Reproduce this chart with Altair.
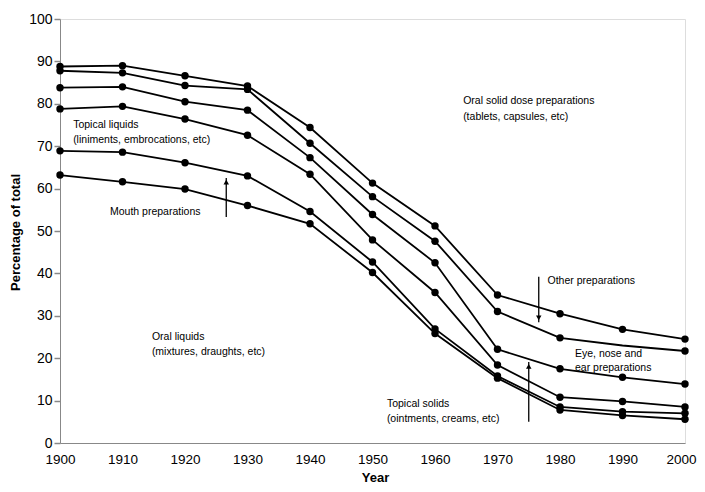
import altair as alt
import pandas as pd

years = [1900, 1910, 1920, 1930, 1940, 1950, 1960, 1970, 1980, 1990, 2000]

# Cumulative boundaries, bottom to top
oral_liquids      = [63.2, 61.6, 59.9, 56.0, 51.7, 40.2, 25.8, 15.3, 7.8, 6.5, 5.6]
mouth_preps       = [68.9, 68.6, 66.1, 63.0, 54.6, 42.7, 26.9, 15.8, 8.5, 7.4, 7.0]
topical_liquids   = [78.8, 79.4, 76.4, 72.6, 63.4, 47.9, 35.5, 18.4, 10.8, 9.8, 8.5]
topical_solids    = [83.8, 84.0, 80.5, 78.5, 67.3, 53.9, 42.5, 22.1, 17.5, 15.5, 13.9]
eye_nose_ear      = [87.8, 87.3, 84.3, 83.4, 70.7, 58.1, 47.6, 31.0, 24.8, 23.0, 21.7]
other_preps       = [88.8, 89.0, 86.6, 84.2, 74.4, 61.3, 51.2, 34.9, 30.5, 26.8, 24.5]

series_names = ["oral_liquids", "mouth", "topical_liquids", "topical_solids", "eye_nose_ear", "other"]
series_values = [oral_liquids, mouth_preps, topical_liquids, topical_solids, eye_nose_ear, other_preps]

# Annotation labels
label_text = [
    "Topical liquids", "(liniments, embrocations, etc)",
    "Mouth preparations",
    "Oral solid dose preparations", "(tablets, capsules, etc)",
    "Oral liquids", "(mixtures, draughts, etc)",
    "Other preparations",
    "Eye, nose and", "ear preparations",
    "Topical solids", "(ointments, creams, etc)",
]
label_year = [1902.1, 1902.1, 1908.0, 1964.5, 1964.5, 1914.7, 1914.7, 1978.0, 1982.4, 1982.4, 1952.3, 1952.3]
label_value = [75.0, 71.5, 54.5, 80.7, 76.8, 25.0, 21.5, 38.2, 21.0, 17.7, 9.2, 5.6]

# Arrows: x position, tail, tip, direction
arrow_year = [1926.6, 1976.6, 1975.0]
arrow_tail = [53.3, 39.2, 5.0]
arrow_tip = [62.5, 28.5, 19.1]
arrow_dir = ["up", "down", "up"]

rows = []
for name, vals in zip(series_names, series_values):
    for yr, v in zip(years, vals):
        rows.append({"series": name, "year": yr, "value": v})
df = pd.DataFrame(rows)

labels_df = pd.DataFrame({"year": label_year, "value": label_value, "text": label_text})

arrows_df = pd.DataFrame({
    "year": arrow_year,
    "value": arrow_tail,
    "value2": arrow_tip,
    "dir": arrow_dir,
})
arrows_df["head"] = [t - 1.0 if d == "up" else t + 1.0 for t, d in zip(arrow_tip, arrow_dir)]
arrows_df["shape"] = ["triangle-up" if d == "up" else "triangle-down" for d in arrow_dir]

x_enc = alt.X(
    "year:Q",
    scale=alt.Scale(domain=[1900, 2000], nice=False, zero=False),
    axis=alt.Axis(
        values=years, format="d", title="Year", ticks=False, labelPadding=9,
        labelFlush=False, labelOverlap=False,
        labelOffset={"condition": {"test": "datum.value == 2000", "value": -4}, "value": 0},
        grid=False, titleFontWeight="bold", titleFontSize=13,
        titleX=315, titleY=34, titleBaseline="middle", titleAlign="center",
        labelFontSize=13.5,
    ),
)
y_enc = alt.Y(
    "value:Q",
    scale=alt.Scale(domain=[0, 100], nice=False),
    axis=alt.Axis(
        values=list(range(0, 101, 10)), title="Percentage of total", grid=False,
        tickSize=6, tickWidth=1.5, labelPadding=2, labelFontSize=14,
        labelFlush=False, labelOverlap=False,
        titleFontWeight="bold", titleFontSize=13, titleX=-45, titleY=213,
        titleAngle=-90, titleAlign="center", titleBaseline="middle",
    ),
)

lines = alt.Chart(df).mark_line(color="black", strokeWidth=1.8).encode(
    x=x_enc, y=y_enc, detail="series:N"
)

points = alt.Chart(df).transform_filter(
    "!(datum.series == 'eye_nose_ear' && datum.year == 1990)"
).mark_circle(color="black", size=55, opacity=1).encode(x=x_enc, y=y_enc)

texts = alt.Chart(labels_df).mark_text(
    align="left", baseline="middle", fontSize=10.5, font="Liberation Sans", color="black"
).encode(x=x_enc, y=y_enc, text="text:N")

arrow_lines = alt.Chart(arrows_df).mark_rule(color="black", strokeWidth=1.3).encode(
    x=x_enc, y=y_enc, y2="value2:Q"
)

arrow_heads = alt.Chart(arrows_df).mark_point(
    color="black", filled=True, opacity=1, size=30
).encode(
    x=x_enc,
    y=alt.Y("head:Q"),
    shape=alt.Shape("shape:N", scale=None),
)

chart = alt.layer(lines, points, texts, arrow_lines, arrow_heads).properties(
    width=625,
    height=424,
    autosize=alt.AutoSizeParams(type="none"),
    padding={"left": 52, "top": 11, "right": 12, "bottom": 41},
).configure_view(
    stroke="black", strokeWidth=1.5
).configure_axis(
    domainColor="black", domainWidth=3, labelColor="black", tickColor="black",
    titleColor="black", labelFont="Liberation Sans", titleFont="Liberation Sans",
).configure(background="white")

chart.save("out.html", embed_options={"renderer": "svg", "actions": False})
